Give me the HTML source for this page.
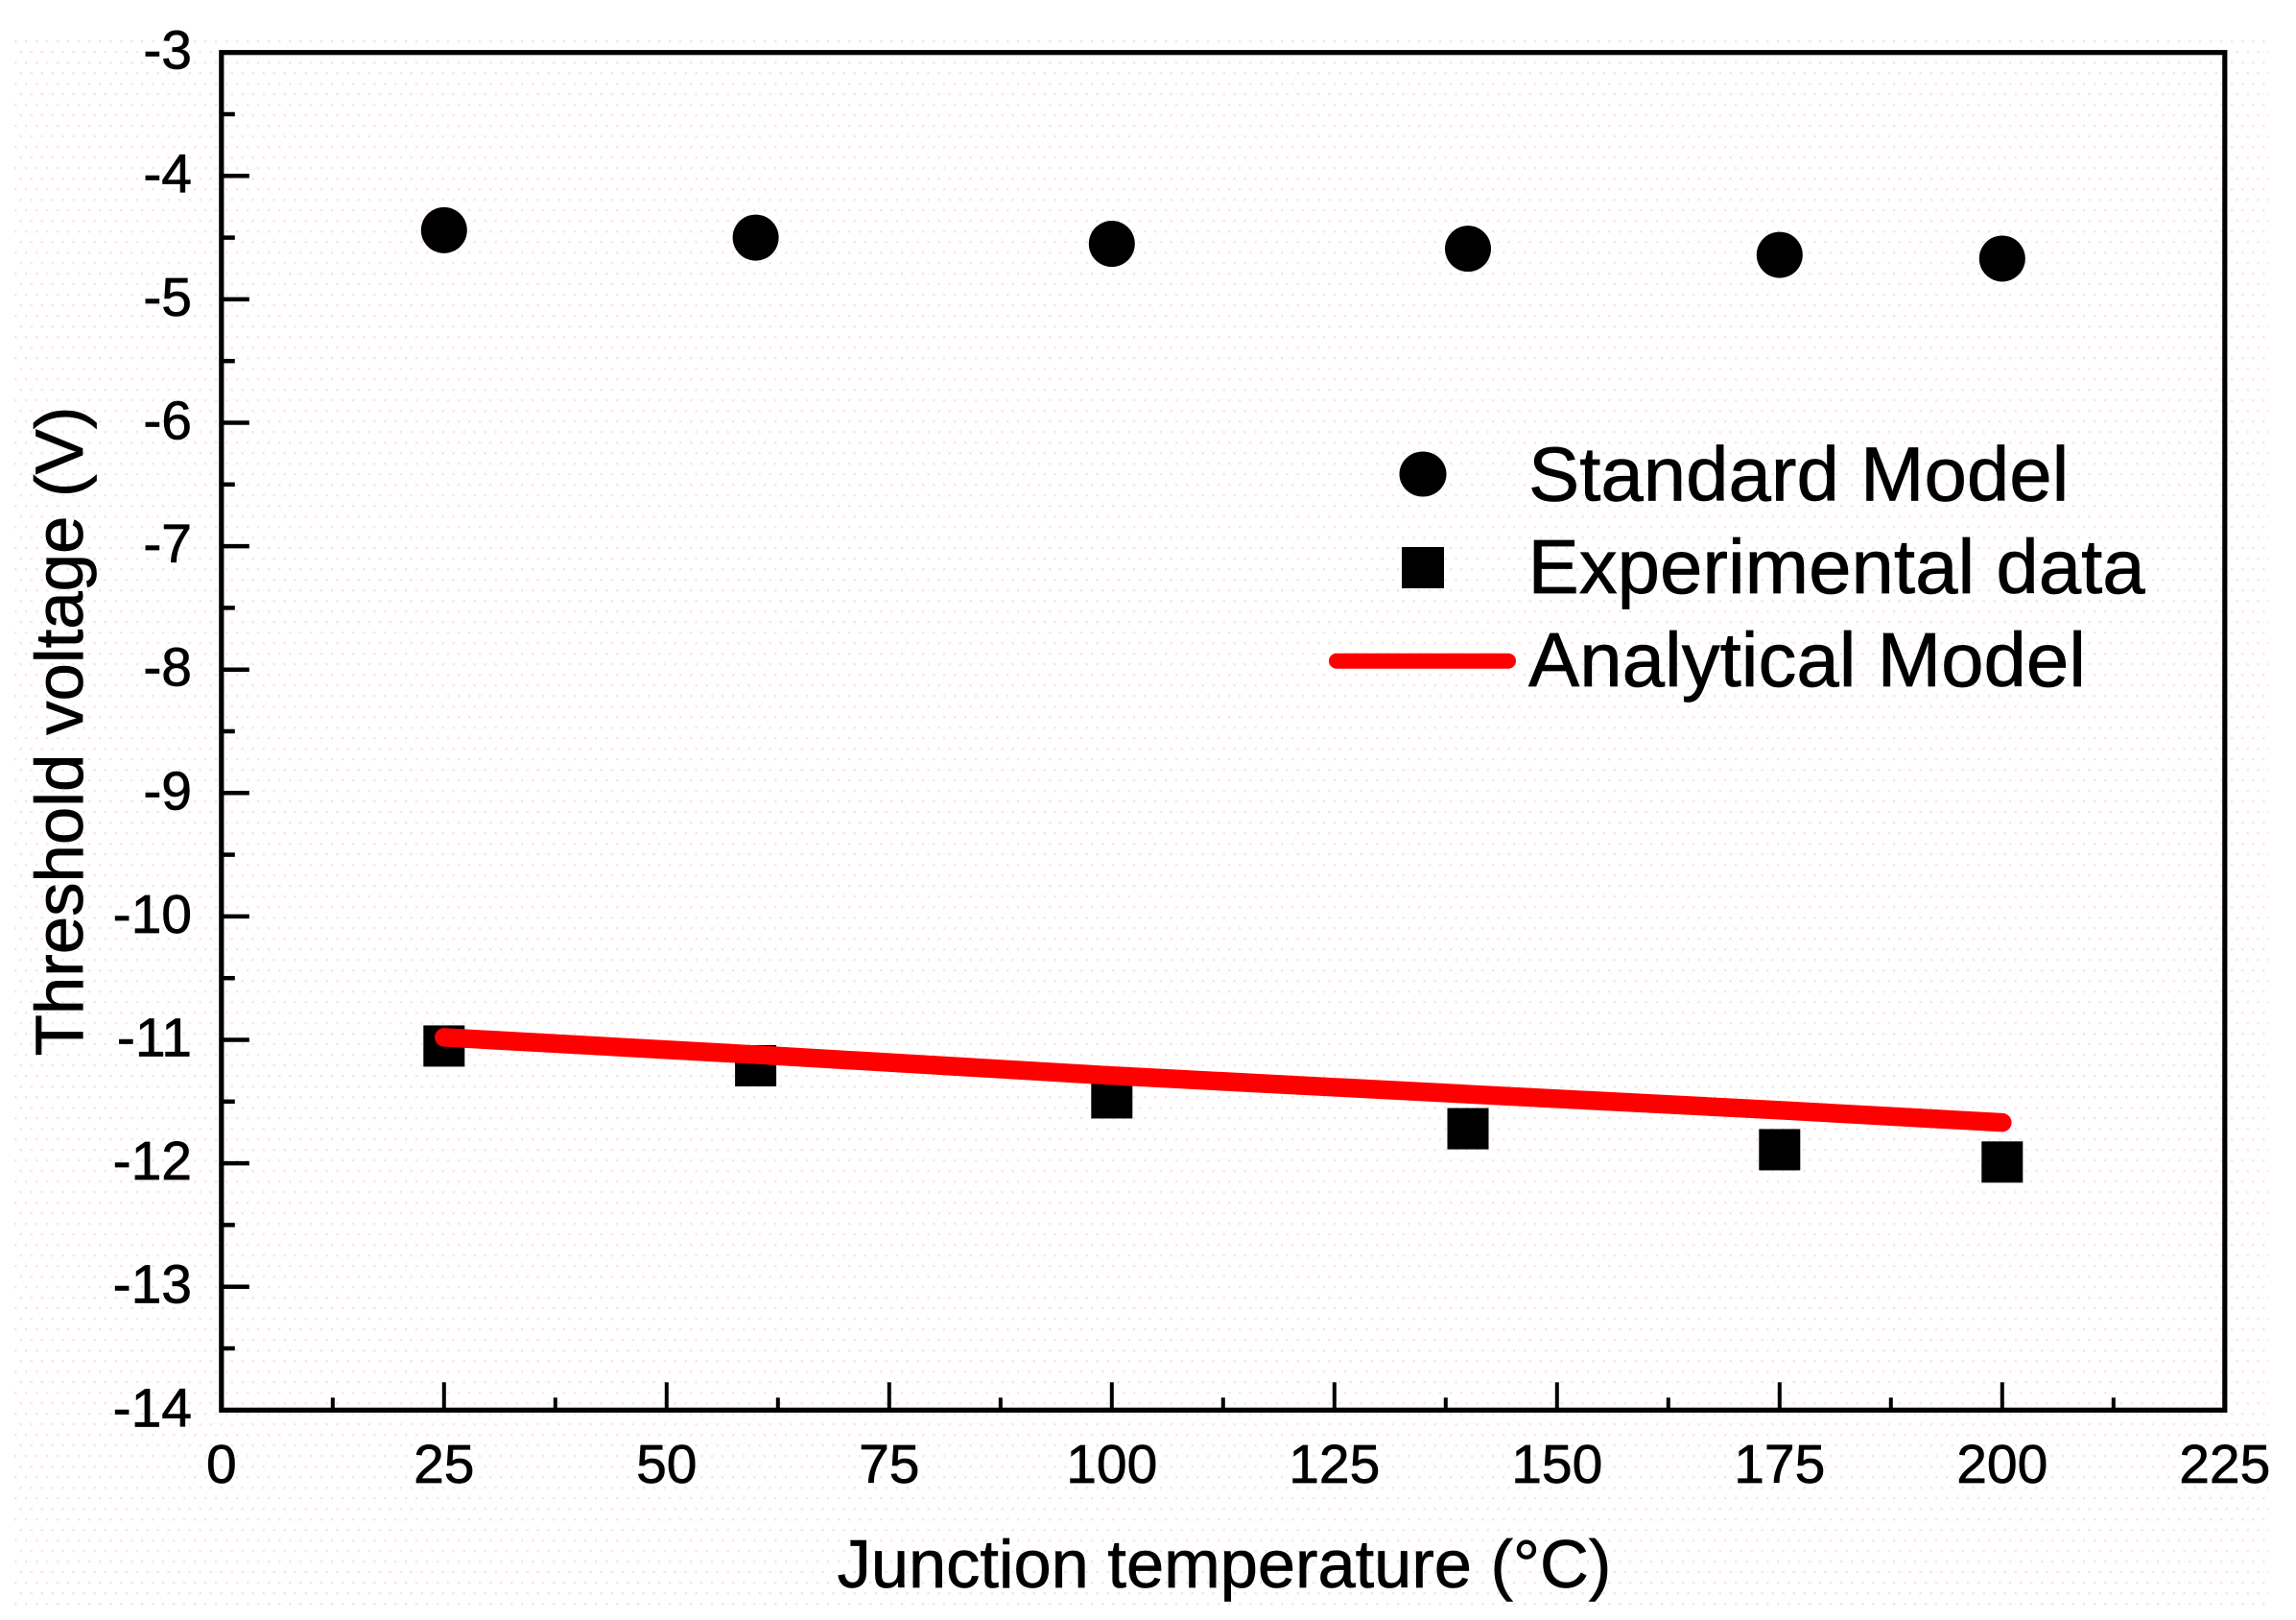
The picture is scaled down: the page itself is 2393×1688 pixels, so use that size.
<!DOCTYPE html>
<html lang="en">
<head>
<meta charset="utf-8">
<title>Threshold voltage vs junction temperature</title>
<style>
  html, body { margin: 0; padding: 0; background: #ffffff; }
  body { width: 2393px; height: 1688px; overflow: hidden; }
  svg { display: block; font-family: "Liberation Sans", Arial, sans-serif; fill: #000; }
  .heavy { stroke: #000; stroke-width: 0.7px; }
</style>
</head>
<body>
<svg id="chart" xmlns="http://www.w3.org/2000/svg" width="2393" height="1688" viewBox="0 0 2393 1688">
  <defs>
    <pattern id="dots" x="15" y="42" width="22" height="22" patternUnits="userSpaceOnUse">
      <rect x="0" y="0" width="2.4" height="2.4" fill="#fde3e3"/>
      <rect x="11" y="0" width="2.4" height="2.4" fill="#fde3e3"/>
      <rect x="5.5" y="11" width="2.4" height="2.4" fill="#fde3e3"/>
      <rect x="16.5" y="11" width="2.4" height="2.4" fill="#fde3e3"/>
    </pattern>
  </defs>
  <rect x="0" y="0" width="2393" height="1688" fill="#ffffff"/>
  <rect x="15" y="42" width="2350" height="1636" fill="url(#dots)"/>

  <g id="x-ticks"></g>
  <g id="y-ticks"></g>
  <g id="x-labels" font-size="57" text-anchor="middle" class="heavy"></g>
  <g id="y-labels" font-size="57" text-anchor="end" class="heavy"></g>
  <rect x="230.8" y="54.7" width="2088" height="1414.6" fill="none" stroke="#000" stroke-width="5.2"/>

  <g id="series-experimental"></g>
  <g id="series-standard"></g>
  <polyline id="series-analytical" fill="none" stroke="#ff0000" stroke-width="19.5" stroke-linecap="round" stroke-linejoin="round"/>

  <text x="1276" y="1654" font-size="70.4" text-anchor="middle" class="heavy">Junction temperature (°C)</text>
  <text x="86" y="762" font-size="70.8" text-anchor="middle" transform="rotate(-90 86 762)" class="heavy">Threshold voltage (V)</text>

  <g>
    <g>
      <ellipse cx="1483" cy="494" rx="24.5" ry="23.5"/>
      <text x="1593" y="521.7" font-size="79.8" class="heavy">Standard Model</text>
    </g>
    <g>
      <rect x="1461" y="570" width="44" height="43"/>
      <text x="1592.5" y="618" font-size="79.8" class="heavy">Experimental data</text>
    </g>
    <g>
      <line x1="1393" y1="688.7" x2="1572" y2="688.7" stroke="#ff0000" stroke-width="16" stroke-linecap="round"/>
      <text x="1593" y="715" font-size="79.8" class="heavy">Analytical Model</text>
    </g>
  </g>
</svg>

<script>
const temperatures = [25, 60, 100, 140, 175, 200];
const standardModel = [-4.44, -4.50, -4.55, -4.59, -4.64, -4.67];
const experimentalData = [-11.05, -11.21, -11.47, -11.72, -11.89, -11.99];
const analyticalModel = [-10.98, -11.12, -11.29, -11.44, -11.57, -11.67];
const xTickLabels = [0, 25, 50, 75, 100, 125, 150, 175, 200, 225];
const yTickLabels = [-3, -4, -5, -6, -7, -8, -9, -10, -11, -12, -13, -14];
const xMinorTicks = [12.5, 37.5, 62.5, 87.5, 112.5, 137.5, 162.5, 187.5, 212.5];
const yMinorTicks = [-3.5, -4.5, -5.5, -6.5, -7.5, -8.5, -9.5, -10.5, -11.5, -12.5, -13.5];

const NS = 'http://www.w3.org/2000/svg';
const plotLeft = 230.8, plotRight = 2318.8, plotTop = 54.7, plotBottom = 1469.3;
const xDomain = [0, 225], yDomain = [-3, -14];

function xScale(v) {
  return plotLeft + (v - xDomain[0]) / (xDomain[1] - xDomain[0]) * (plotRight - plotLeft);
}
function yScale(v) {
  return plotTop + (v - yDomain[0]) / (yDomain[1] - yDomain[0]) * (plotBottom - plotTop);
}
function make(tag, attrs, parent) {
  const el = document.createElementNS(NS, tag);
  for (const k in attrs) el.setAttribute(k, attrs[k]);
  parent.appendChild(el);
  return el;
}

const xTicksGroup = document.getElementById('x-ticks');
const yTicksGroup = document.getElementById('y-ticks');
const xLabelsGroup = document.getElementById('x-labels');
const yLabelsGroup = document.getElementById('y-labels');

xTickLabels.forEach(function (v) {
  const x = xScale(v);
  const tick = make('line', { x1: x, x2: x, y1: plotBottom, y2: plotBottom - 29, stroke: '#000', 'stroke-width': 4 }, xTicksGroup);
  
  
  const label = make('text', { x: x, y: 1545 }, xLabelsGroup);
  label.textContent = String(v);
  
  
});
xMinorTicks.forEach(function (v) {
  const x = xScale(v);
  const tick = make('line', { x1: x, x2: x, y1: plotBottom, y2: plotBottom - 13, stroke: '#000', 'stroke-width': 4 }, xTicksGroup);
  
  
});
yTickLabels.forEach(function (v) {
  const y = yScale(v);
  const tick = make('line', { x1: plotLeft, x2: plotLeft + 29, y1: y, y2: y, stroke: '#000', 'stroke-width': 4.5 }, yTicksGroup);
  
  
  const label = make('text', { x: 200, y: y + 17 }, yLabelsGroup);
  label.textContent = String(v);
  
  
});
yMinorTicks.forEach(function (v) {
  const y = yScale(v);
  const tick = make('line', { x1: plotLeft, x2: plotLeft + 14, y1: y, y2: y, stroke: '#000', 'stroke-width': 4.5 }, yTicksGroup);
  
  
});

const standardGroup = document.getElementById('series-standard');
standardModel.forEach(function (v, i) {
  const point = make('ellipse', { cx: xScale(temperatures[i]), cy: yScale(v), rx: 24, ry: 24 }, standardGroup);
  
  
});

const experimentalGroup = document.getElementById('series-experimental');
experimentalData.forEach(function (v, i) {
  const point = make('rect', { x: xScale(temperatures[i]) - 21.5, y: yScale(v) - 21.5, width: 43, height: 43 }, experimentalGroup);
  
  
});

document.getElementById('series-analytical').setAttribute(
  'points',
  analyticalModel.map(function (v, i) { return xScale(temperatures[i]) + ',' + yScale(v); }).join(' ')
);
</script>
</body>
</html>
